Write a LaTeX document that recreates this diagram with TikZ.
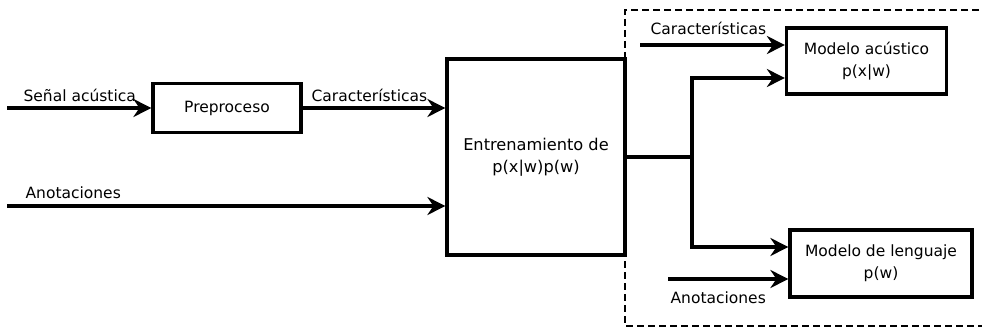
\documentclass[tikz,border=0pt]{standalone}
\usepackage{fontspec}
\setmainfont{DejaVu Sans}
\usetikzlibrary{arrows.meta,calc}
\begin{document}
\begin{tikzpicture}
[x=1pt, y=-1pt, line width=3.2pt,
 >={Stealth[length=18pt,width=18pt,inset=6pt]},
 block/.style={draw, line width=3.2pt, align=center, inner sep=0pt},
 lbl/.style={anchor=base west, inner sep=0pt},
 font=\fontsize{15.5}{22}\selectfont]
\useasboundingbox (0,0) rectangle (982,329);

% dashed frame (runs out of the picture on the right)
\draw[dash pattern=on 7pt off 4pt, line width=2.8pt] (990,10) -- (625,10) -- (625,326) -- (990,326);

\node (pre) at (227,108) [block, minimum width=148pt, minimum height=49pt] {Preproceso};
\node (train) at (536,157) [block, minimum width=178pt, minimum height=196pt, font=\fontsize{16.2}{22}\selectfont] {Entrenamiento de\\p(x|w)p(w)};
\node (am) at (866.5,61) [block, minimum width=160pt, minimum height=66pt] {Modelo acústico\\p(x|w)};
\node (lm) at (881,263.5) [block, minimum width=182pt, minimum height=67pt] {Modelo de lenguaje\\p(w)};

\coordinate (sig) at (7,108);
\coordinate (ann) at (7,206);
\coordinate (split) at (692,157);
\coordinate (feat2) at (640,45);
\coordinate (ann2) at (668,279);

\draw[->] (sig) -- (pre);
\draw[->] (pre.east) -- (pre.east -| train.west);
\draw[->] (ann) -- (ann -| train.west);
\draw (train.east |- split) -- (split);
\draw[->] (split) |- ($(am.west)+(0,17)$);
\draw[->] (split) |- ($(lm.west)+(0,-16.5)$);
\draw[->] (feat2) -- (feat2 -| am.west);
\draw[->] (ann2) -- (ann2 -| lm.west);

\node (lsig) at (22,101) [lbl] {Señal acústica};
\node (lfeat) at (310,101) [lbl] {Características};
\node (lann) at (24,198) [lbl] {Anotaciones};
\node (lfeat2) at (649,35) [lbl] {Características};
\node (lann2) at (669,303) [lbl] {Anotaciones};
\end{tikzpicture}
\end{document}
